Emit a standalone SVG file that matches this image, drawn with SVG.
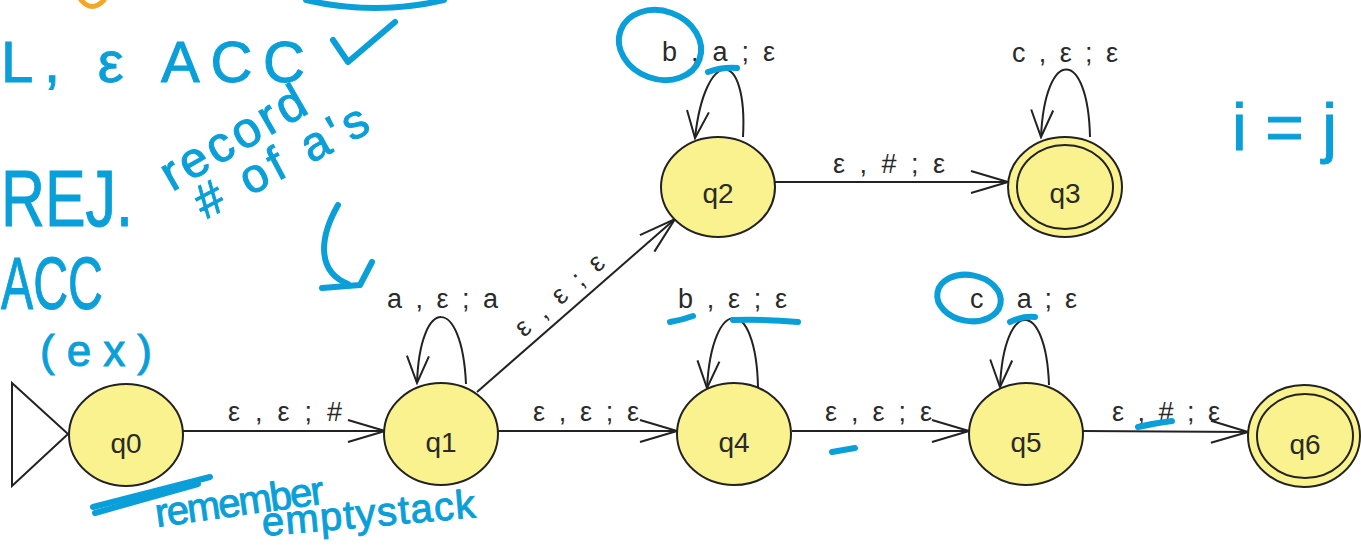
<svg xmlns="http://www.w3.org/2000/svg" width="1361" height="546" viewBox="0 0 1361 546">
  <style>
    .state { fill: #f9f28e; stroke: #222; stroke-width: 2; }
    .ring { fill: none; stroke: #222; stroke-width: 2; }
    .name { font-family: "Liberation Sans", Arial, sans-serif; font-size: 28px; fill: #2a2a2a; text-anchor: middle; }
    .lbl { font-family: "Liberation Sans", Arial, sans-serif; font-size: 27px; fill: #2a2a2a; }
    .edge { fill: none; stroke: #222; stroke-width: 2; }
    .ink { fill: none; stroke: #0a9fd8; stroke-width: 6; stroke-linecap: round; stroke-linejoin: round; }
    .hand { font-family: "Liberation Sans", Arial, sans-serif; fill: #0a9fd8; stroke: #0a9fd8; stroke-width: 1; }
  </style>
  <defs>
    <marker id="arrow" markerUnits="userSpaceOnUse" viewBox="-40 -13 42 26" refX="0" refY="0" markerWidth="42" markerHeight="26" orient="auto">
      <path d="M -37 -11 L 0 0 L -37 11" fill="none" stroke="#222" stroke-width="2"/>
    </marker>
    <marker id="loopArrow" markerUnits="userSpaceOnUse" viewBox="-30 -13 32 26" refX="0" refY="0" markerWidth="32" markerHeight="26" orient="auto">
      <path d="M -27 -11 L 0 0 L -27 11" fill="none" stroke="#222" stroke-width="2"/>
    </marker>
  </defs>

  <rect width="1361" height="546" fill="#ffffff"/>

  <!-- transitions -->
  <g id="connectors">
    <path class="edge" d="M 183 431 L 385 431" marker-end="url(#arrow)"/>
    <path class="edge" d="M 498 431 L 677 431" marker-end="url(#arrow)"/>
    <path class="edge" d="M 792 431 L 969 431" marker-end="url(#arrow)"/>
    <path class="edge" d="M 1083 431 L 1248 432" marker-end="url(#arrow)"/>
    <path class="edge" d="M 775 182 L 1008 182" marker-end="url(#arrow)"/>
    <path class="edge" d="M 477 392 L 675 219" marker-end="url(#arrow)"/>
    <!-- self loops -->
    <path class="edge" d="M 466 384 C 462 295, 420 295, 417 383" marker-end="url(#loopArrow)"/>
    <path class="edge" d="M 743 137 C 748 47, 705 47, 695 138" marker-end="url(#loopArrow)"/>
    <path class="edge" d="M 1090 137 C 1088 47, 1045 47, 1041 137" marker-end="url(#loopArrow)"/>
    <path class="edge" d="M 758 387 C 756 295, 712 295, 707 388" marker-end="url(#loopArrow)"/>
    <path class="edge" d="M 1049 385 C 1046 298, 1004 298, 1000 387" marker-end="url(#loopArrow)"/>

    <text class="lbl" x="228" y="421" textLength="114" lengthAdjust="spacing">ε , ε ; #</text>
    <text class="lbl" x="533" y="421" textLength="106" lengthAdjust="spacing">ε , ε ; ε</text>
    <text class="lbl" x="825" y="421" textLength="107" lengthAdjust="spacing">ε , ε ; ε</text>
    <text class="lbl" x="1112" y="421" textLength="108" lengthAdjust="spacing">ε , # ; ε</text>
    <text class="lbl" x="833" y="173" textLength="112" lengthAdjust="spacing">ε , # ; ε</text>
    <text class="lbl" transform="translate(524 338) rotate(-41.3)" x="0" y="0" textLength="110" lengthAdjust="spacing">ε , ε ; ε</text>
    <text class="lbl" x="387" y="308" textLength="111" lengthAdjust="spacing">a , ε ; a</text>
    <text class="lbl" x="662" y="61" textLength="113" lengthAdjust="spacing">b , a ; ε</text>
    <text class="lbl" x="1012" y="62" textLength="106" lengthAdjust="spacing">c , ε ; ε</text>
    <text class="lbl" x="678" y="308" textLength="109" lengthAdjust="spacing">b , ε ; ε</text>
    <text class="lbl" x="970" y="308" textLength="107" lengthAdjust="spacing">c , a ; ε</text>
  </g>

  <!-- initial-state marker -->
  <path d="M 12 383 L 68 434 L 12 486 Z" fill="#fff" stroke="#222" stroke-width="2"/>

  <g id="q0">
    <ellipse class="state" cx="126" cy="435" rx="57" ry="51"/>
    <text class="name" x="126" y="453">q0</text>
  </g>
  <g id="q1">
    <ellipse class="state" cx="441" cy="434" rx="57" ry="51"/>
    <text class="name" x="441" y="452">q1</text>
  </g>
  <g id="q2">
    <ellipse class="state" cx="718" cy="187" rx="57" ry="50"/>
    <text class="name" x="718" y="203">q2</text>
  </g>
  <g id="q3">
    <ellipse class="state" cx="1065" cy="187" rx="57" ry="50"/>
    <ellipse class="ring" cx="1065" cy="187" rx="48" ry="42"/>
    <text class="name" x="1065" y="203">q3</text>
  </g>
  <g id="q4">
    <ellipse class="state" cx="734" cy="434" rx="57" ry="51"/>
    <text class="name" x="734" y="452">q4</text>
  </g>
  <g id="q5">
    <ellipse class="state" cx="1026" cy="434" rx="57" ry="51"/>
    <text class="name" x="1026" y="452">q5</text>
  </g>
  <g id="q6">
    <ellipse class="state" cx="1304" cy="436" rx="56" ry="51"/>
    <ellipse class="ring" cx="1305" cy="436" rx="48" ry="42"/>
    <text class="name" x="1305" y="454">q6</text>
  </g>

  <!-- pen notes -->
  <g id="notes">
    <path d="M 81 0 Q 92 13 104 0" fill="none" stroke="#f5a623" stroke-width="5" stroke-linecap="round"/>
    <path class="ink" d="M 306 0 Q 375 16 444 0"/>
    <path class="ink" d="M 333 40 L 348 62 L 395 22"/>

    <text class="hand" x="1" y="82" font-size="58" textLength="304" lengthAdjust="spacing">L, ε ACC</text>
    <text class="hand" x="1" y="226" font-size="80" textLength="132" lengthAdjust="spacingAndGlyphs">REJ.</text>
    <text class="hand" x="1" y="309" font-size="74" textLength="102" lengthAdjust="spacingAndGlyphs">ACC</text>
    <text class="hand" x="40" y="366" font-size="44" textLength="112" lengthAdjust="spacing">(ex)</text>
    <text class="hand" transform="translate(172 192) rotate(-30)" x="0" y="0" font-size="50" textLength="160" lengthAdjust="spacing">record</text>
    <text class="hand" transform="translate(205 220) rotate(-28)" x="0" y="0" font-size="48" textLength="190" lengthAdjust="spacing"># of a's</text>
    <path class="ink" stroke-width="4" d="M 338 205 C 318 240, 318 272, 348 284"/>
    <path class="ink" stroke-width="4" d="M 322 288 L 360 285 L 372 262"/>
    <text class="hand" x="1232" y="150" font-size="66" textLength="105" lengthAdjust="spacing" stroke-width="0">i = j</text>

    <path class="ink" stroke-width="3" d="M 93 507 L 210 477"/>
    <path class="ink" stroke-width="3" d="M 95 513 L 198 484"/>
    <text class="hand" transform="translate(157 527) rotate(-8)" x="0" y="0" font-size="40" textLength="170" lengthAdjust="spacing">remember</text>
    <text class="hand" transform="translate(263 536) rotate(-5)" x="0" y="0" font-size="40" textLength="214" lengthAdjust="spacing">emptystack</text>

    <ellipse class="ink" cx="660" cy="45" rx="42" ry="34" transform="rotate(20 660 45)"/>
    <path class="ink" d="M 708 72 Q 722 67 737 68"/>
    <path class="ink" d="M 670 322 Q 682 320 693 316"/>
    <path class="ink" d="M 733 320 Q 765 319 798 322"/>
    <path class="ink" d="M 832 452 L 855 448"/>
    <ellipse class="ink" cx="969" cy="298" rx="32" ry="23" transform="rotate(10 969 298)"/>
    <path class="ink" d="M 1010 322 Q 1022 316 1035 317"/>
    <path class="ink" stroke-width="7" d="M 1138 427 Q 1155 423 1172 421"/>
  </g>
</svg>
